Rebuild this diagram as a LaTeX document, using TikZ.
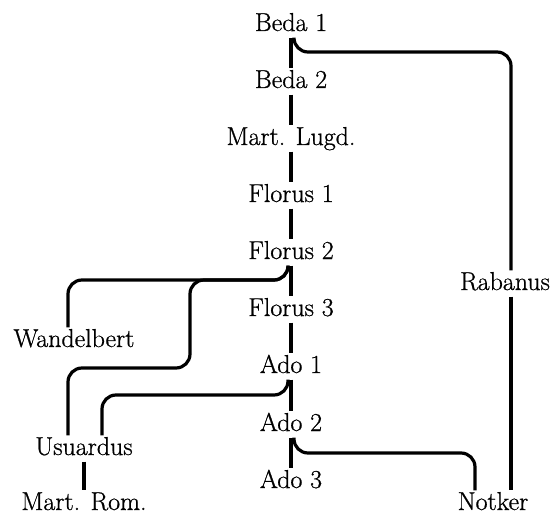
\documentclass[tikz,border=0pt]{standalone}
\usepackage{fontspec}
\newfontfamily\lblfont{Latin Modern Roman}[FakeBold=0.8]
\begin{document}
\begin{tikzpicture}[x=1bp,y=-1bp,
  lbl/.style={anchor=base,inner xsep=2bp,inner ysep=2.5bp,text height=17bp,text depth=4bp,font=\lblfont\fontsize{26}{30}\selectfont},
  conn/.style={line width=3.2bp,rounded corners=14bp}]
\useasboundingbox (0,0) rectangle (552,514);
% nodes
\node[lbl] (b1) at (291,31) {Beda 1};
\node[lbl] (b2) at (291,88) {Beda 2};
\node[lbl] (ml) at (291,145) {Mart. Lugd.};
\node[lbl] (f1) at (291,202) {Florus 1};
\node[lbl] (f2) at (291,259) {Florus 2};
\node[lbl] (f3) at (291,316) {Florus 3};
\node[lbl] (a1) at (291,373) {Ado 1};
\node[lbl] (a2) at (291,431) {Ado 2};
\node[lbl] (a3) at (291,488) {Ado 3};
\node[lbl] (rab) at (505,290) {Rabanus};
\node[lbl] (wan) at (74,347) {Wandelbert};
\node[lbl] (usu) at (84,455) {Usuardus};
\node[lbl] (mr) at (84,510) {Mart. Rom.};
\node[lbl] (not) at (493,510) {Notker};
% turning heights
\coordinate (h1) at (0,52);
\coordinate (h2) at (0,280);
\coordinate (h3) at (0,368);
\coordinate (h4) at (0,395);
\coordinate (h5) at (0,453);
\coordinate (xs) at (190,0);
% trunk
\draw[conn] (b1.south) -- (b2.north);
\draw[conn] (b2.south) -- (ml.north);
\draw[conn] (ml.south) -- (f1.north);
\draw[conn] (f1.south) -- (f2.north);
\draw[conn] (f2.south) -- (f3.north);
\draw[conn] (f3.south) -- (a1.north);
\draw[conn] (a1.south) -- (a2.north);
\draw[conn] (a2.south) -- (a3.north);
% Beda 1 -> Rabanus -> Notker
\draw[conn] ([xshift=3bp]b1.south) |- ([xshift=6bp]rab.north |- h1) -- ([xshift=6bp]rab.north);
\draw[conn] ([xshift=6bp]rab.south) -- ([xshift=6bp]rab.south |- not.north);
% Florus 2 -> Wandelbert
\draw[conn] ([xshift=-3bp]f2.south) |- ([xshift=-6bp]wan.north |- h2) -- ([xshift=-6bp]wan.north);
% Florus 2 -> Usuardus
\draw[conn] ([xshift=-3bp]f2.south) |- (xs |- h2) |- ([xshift=-16bp]usu.north |- h3) -- ([xshift=-16bp]usu.north);
% Ado 1 -> Usuardus
\draw[conn] ([xshift=-3bp]a1.south) |- ([xshift=18bp]usu.north |- h4) -- ([xshift=18bp]usu.north);
% Ado 2 -> Notker
\draw[conn] ([xshift=3bp]a2.south) |- ([xshift=-18bp]not.north |- h5) -- ([xshift=-18bp]not.north);
% Usuardus -> Mart. Rom.
\draw[conn] (usu.south) -- (usu.south |- mr.north);
\end{tikzpicture}
\end{document}
